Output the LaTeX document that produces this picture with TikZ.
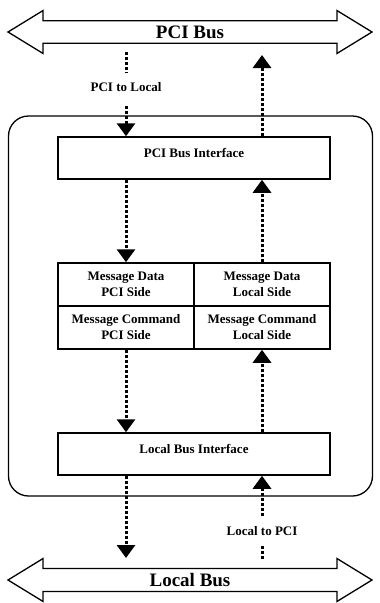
\documentclass[tikz,border=0pt]{standalone}
\usepackage{fontspec}
\setmainfont{Liberation Serif}
\usetikzlibrary{arrows.meta,shapes.arrows}
\begin{document}
\begin{tikzpicture}[x=1pt,y=-1pt,
  bus/.style={double arrow, draw, line width=1.3pt, double arrow head extend=6.5pt,
    double arrow tip angle=63, minimum height=364pt, minimum width=43pt, inner sep=0pt,
    font=\bfseries\fontsize{19}{22}\selectfont},
  box/.style={draw, line width=1.5pt, minimum width=272pt, minimum height=42pt, inner sep=0pt,
    text height=9pt, text depth=10pt, font=\bfseries\fontsize{13}{15}\selectfont},
  cell/.style={draw, line width=1.5pt, minimum width=136pt, minimum height=43pt, inner sep=0pt,
    align=center, font=\bfseries\fontsize{13}{16}\selectfont},
  lbl/.style={inner xsep=2pt, inner ysep=10pt, font=\bfseries\fontsize{13}{15}\selectfont},
  flowline/.style={line width=3pt, dash pattern=on 3pt off 2pt},
  flow/.style={flowline, -{Triangle[width=18pt,length=13pt]}},
]
\useasboundingbox (0,0) rectangle (380,603);
\node[draw, line width=1.3pt, rounded corners=20pt, minimum width=364pt, minimum height=380pt] (chip) at (190.5,306) {};
\node[bus] (pcibus) at (190,32) {PCI Bus};
\node[bus] (localbus) at (190,580) {Local Bus};
\node[box] (pcibi) at (194,158) {PCI Bus Interface};
\node[box] (lbi) at (194,454) {Local Bus Interface};
\node[cell] (mdp) at (126,284.5) {Message Data\\PCI Side};
\node[cell] (mdl) at (262,284.5) {Message Data\\Local Side};
\node[cell] (mcp) at (126,327.5) {Message Command\\PCI Side};
\node[cell] (mcl) at (262,327.5) {Message Command\\Local Side};
\node[lbl] (p2l) at (126,87) {PCI to Local};
\node[lbl] (l2p) at (262,531) {Local to PCI};
% connectors
\draw[flowline, shorten <=20pt] (pcibus.center -| p2l) -- (p2l.north);
\draw[flow, shorten <=4.5pt] (p2l.south) -- (pcibi.north -| p2l);
\draw[flow, shorten >=23pt] (pcibi.north -| mdl) -- (pcibus.center -| mdl);
\draw[flow] (pcibi.south -| mdp) -- (mdp.north);
\draw[flow] (mdl.north) -- (pcibi.south -| mdl);
\draw[flow] (mcp.south) -- (lbi.north -| mcp);
\draw[flow] (lbi.north -| mcl) -- (mcl.south);
\draw[flow, shorten >=22pt] (lbi.south -| mcp) -- (localbus.center -| mcp);
\draw[flowline, shorten <=21pt] (localbus.center -| l2p) -- (l2p.south);
\draw[flow] (l2p.north) -- (lbi.south -| l2p);
\end{tikzpicture}
\end{document}
